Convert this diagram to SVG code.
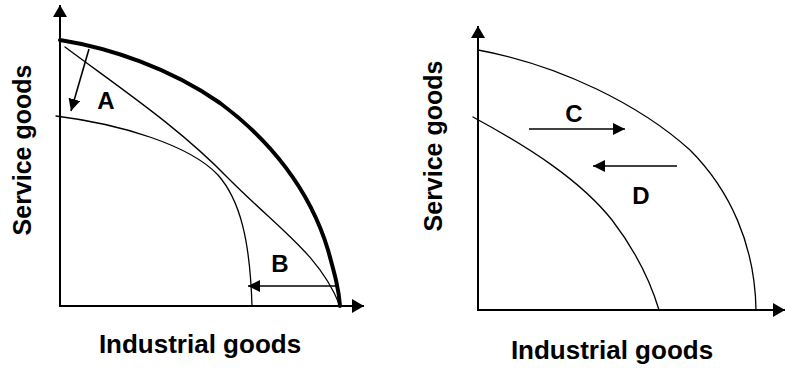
<svg xmlns="http://www.w3.org/2000/svg" width="785" height="368" viewBox="0 0 785 368">
<style>
.axis{stroke:#000;stroke-width:2;fill:none}
.curve{stroke:#000;stroke-width:1.3;fill:none;stroke-linecap:round}
.thick{stroke:#000;stroke-width:4;fill:none;stroke-linecap:round}
.arr{stroke:#000;stroke-width:1.6;fill:none}
.lbl{font-family:"Liberation Sans",Arial,sans-serif;font-weight:bold;font-size:24px;fill:#000;text-anchor:middle}
.ax{font-family:"Liberation Sans",Arial,sans-serif;font-weight:bold;fill:#000;text-anchor:middle}
</style>
<defs>
<marker id="axh" viewBox="0 0 12 14" refX="12" refY="7" markerWidth="12" markerHeight="14" markerUnits="userSpaceOnUse" orient="auto"><path d="M0,0 L12,7 L0,14 Z" fill="#000"/></marker>
<marker id="sm" viewBox="0 0 12 12" refX="12" refY="6" markerWidth="12" markerHeight="12" markerUnits="userSpaceOnUse" orient="auto"><path d="M0,0 L12,6 L0,12 Z" fill="#000"/></marker>
</defs>
<g id="left-panel">
<g id="left-axes">
<line class="axis" x1="60" y1="306" x2="60" y2="5" marker-end="url(#axh)"/>
<line class="axis" x1="59" y1="306" x2="364" y2="306" marker-end="url(#axh)"/>
</g>
<g id="left-curves">
<path class="thick" d="M60,40 C110,48 170,68 220,103 C270,140 310,190 328,250 C335,275 339,290 340,306"/>
<path class="curve" d="M65,47 C120,88 180,128 230,180 C280,230 320,255 340,306"/>
<path class="curve" d="M56,116 C120,124 190,145 218,175 C240,200 250,240 252,306"/>
</g>
<g id="left-connectors">
<line class="arr" x1="89" y1="49" x2="71" y2="111" marker-end="url(#sm)"/>
<line class="arr" x1="337" y1="286" x2="248" y2="286" marker-end="url(#sm)"/>
</g>
<g id="left-labels">
<text class="lbl" x="106" y="109">A</text>
<text class="lbl" x="280" y="272">B</text>
<text class="ax" font-size="26" x="200" y="353">Industrial goods</text>
<text class="ax" font-size="25" transform="translate(31,150) rotate(-90)">Service goods</text>
</g>
</g>
<g id="right-panel">
<g id="right-axes">
<line class="axis" x1="478" y1="310" x2="478" y2="26" marker-end="url(#axh)"/>
<line class="axis" x1="477" y1="310" x2="785" y2="310" marker-end="url(#axh)"/>
</g>
<g id="right-curves">
<path class="curve" d="M478,50 C560,65 640,105 690,150 C730,190 755,245 756,310"/>
<path class="curve" d="M473,117 C530,148 580,180 612,220 C635,250 650,280 659,310"/>
</g>
<g id="right-connectors">
<line class="arr" x1="529" y1="129" x2="625" y2="129" marker-end="url(#sm)"/>
<line class="arr" x1="677" y1="166" x2="593" y2="166" marker-end="url(#sm)"/>
</g>
<g id="right-labels">
<text class="lbl" x="574" y="122">C</text>
<text class="lbl" x="641" y="204">D</text>
<text class="ax" font-size="26" x="612" y="359">Industrial goods</text>
<text class="ax" font-size="25" transform="translate(442,146) rotate(-90)">Service goods</text>
</g>
</g>
</svg>
